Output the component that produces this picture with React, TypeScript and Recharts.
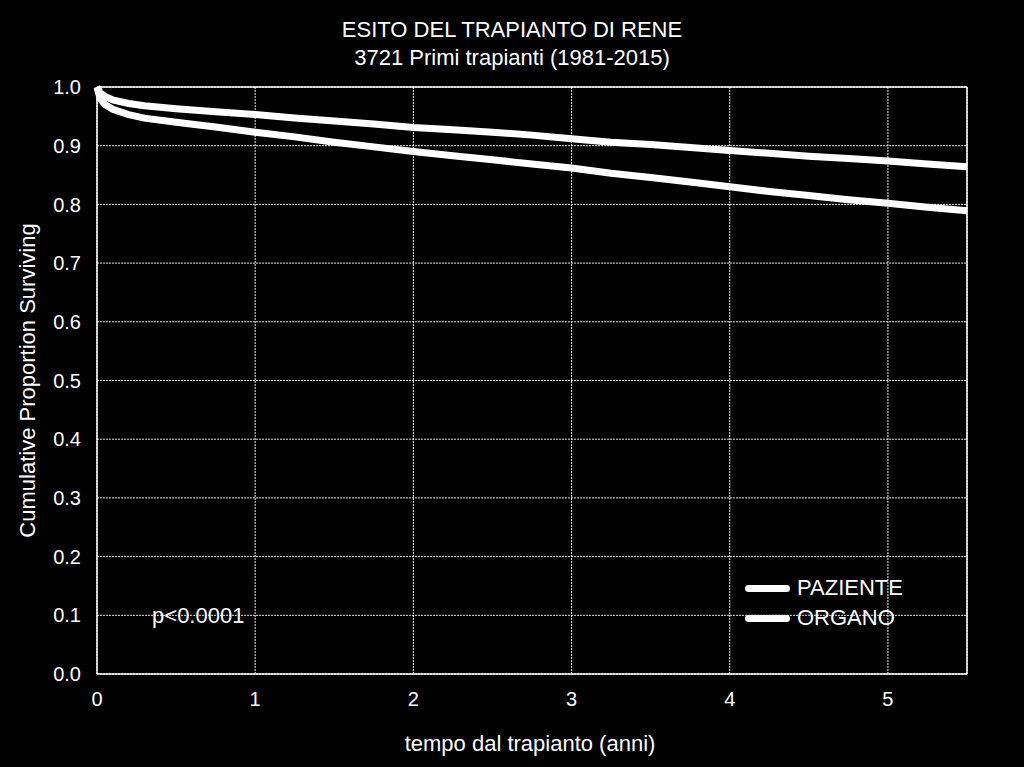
import { LineChart, Line, XAxis, YAxis, CartesianGrid, ReferenceLine, ReferenceDot } from 'recharts';

document.body.style.margin = '0';
document.body.style.background = '#000';

// tempo dal trapianto (anni)
const years = [0, 0.02, 0.05, 0.1, 0.2, 0.3, 0.5, 0.75, 1, 1.25, 1.5, 1.75, 2, 2.25, 2.5, 2.75, 3, 3.25, 3.5, 3.75, 4, 4.25, 4.5, 4.75, 5, 5.25, 5.5];
const paziente = [1.0, 0.99, 0.984, 0.978, 0.972, 0.968, 0.963, 0.958, 0.953, 0.947, 0.942, 0.937, 0.931, 0.927, 0.923, 0.918, 0.912, 0.906, 0.902, 0.897, 0.892, 0.887, 0.882, 0.878, 0.874, 0.869, 0.864];
const organo = [1.0, 0.98, 0.97, 0.962, 0.953, 0.947, 0.94, 0.932, 0.923, 0.915, 0.906, 0.898, 0.89, 0.883, 0.876, 0.869, 0.862, 0.853, 0.846, 0.838, 0.83, 0.822, 0.815, 0.808, 0.802, 0.795, 0.789];
const xTicks = [0, 1, 2, 3, 4, 5];
const yTicks = [0, 0.1, 0.2, 0.3, 0.4, 0.5, 0.6, 0.7, 0.8, 0.9, 1.0];
const seriesNames = ['PAZIENTE', 'ORGANO'];

const data = years.map((t, i) => ({ t, paziente: paziente[i], organo: organo[i] }));

const font = '"Liberation Sans", Arial, sans-serif';
const tickStyle = { fill: '#fff', fontSize: 20, fontFamily: font };

export default function App() {
  return (
    <div style={{ position: 'relative', width: 1024, height: 767, background: '#000', fontFamily: font, color: '#fff' }}>
      <div style={{ position: 'absolute', top: 16, left: 0, width: 1024, textAlign: 'center', fontSize: 22, lineHeight: '28px' }}>
        <div>ESITO DEL TRAPIANTO DI RENE</div>
        <div>3721 Primi trapianti (1981-2015)</div>
      </div>
      <div style={{ position: 'absolute', top: 731, left: 530, transform: 'translateX(-50%)', fontSize: 22, whiteSpace: 'nowrap' }}>
        tempo dal trapianto (anni)
      </div>
      <div style={{ position: 'absolute', left: 0, top: 0 }}>
        <LineChart width={1024} height={767} data={data} margin={{ top: 87, right: 0, bottom: 0, left: 0 }}>
          <CartesianGrid yAxisId="left" stroke="#e6e6e6" strokeDasharray="2 1" vertical horizontal />
          <XAxis
            dataKey="t"
            type="number"
            domain={[0, 5.5]}
            ticks={xTicks}
            tickLine={false}
            axisLine={{ stroke: '#fff', strokeWidth: 1.5 }}
            tick={tickStyle}
            tickMargin={12}
            height={93}
          />
          <YAxis
            yAxisId="left"
            type="number"
            domain={[0, 1]}
            ticks={yTicks}
            tickFormatter={(v: number) => v.toFixed(1)}
            tickLine={false}
            axisLine={{ stroke: '#fff', strokeWidth: 1.5 }}
            tick={tickStyle}
            tickMargin={10}
            width={97}
            label={{ value: 'Cumulative Proportion Surviving', angle: -90, position: 'insideLeft', offset: 27, style: { textAnchor: 'middle', fill: '#fff', fontSize: 22, fontFamily: font } }}
          />
          <YAxis
            yAxisId="right"
            orientation="right"
            type="number"
            domain={[0, 1]}
            ticks={yTicks}
            tickFormatter={(v: number) => v.toFixed(1)}
            tickLine={false}
            axisLine={{ stroke: '#fff', strokeWidth: 1.5 }}
            tick={tickStyle}
            tickMargin={10}
            width={57}
          />
          <ReferenceLine yAxisId="left" y={1} stroke="#fff" strokeWidth={1.5} />
          <ReferenceDot
            yAxisId="left"
            x={0.64}
            y={0.1}
            r={0}
            label={{ value: 'p<0.0001', position: 'center', fill: '#fff', fontSize: 22, fontFamily: font }}
          />
          <Line yAxisId="left" type="linear" dataKey="paziente" name="PAZIENTE" stroke="#fff" strokeWidth={7} dot={false} isAnimationActive={false} />
          <Line yAxisId="left" type="linear" dataKey="organo" name="ORGANO" stroke="#fff" strokeWidth={7} dot={false} isAnimationActive={false} />
        </LineChart>
      </div>
      <div style={{ position: 'absolute', left: 745, top: 573, fontSize: 22 }}>
        {seriesNames.map((n) => (
          <div key={n} style={{ display: 'flex', alignItems: 'center', height: 30 }}>
            <div style={{ width: 45, height: 7, background: '#fff', borderRadius: 4, marginRight: 7 }} />
            <span>{n}</span>
          </div>
        ))}
      </div>
    </div>
  );
}
